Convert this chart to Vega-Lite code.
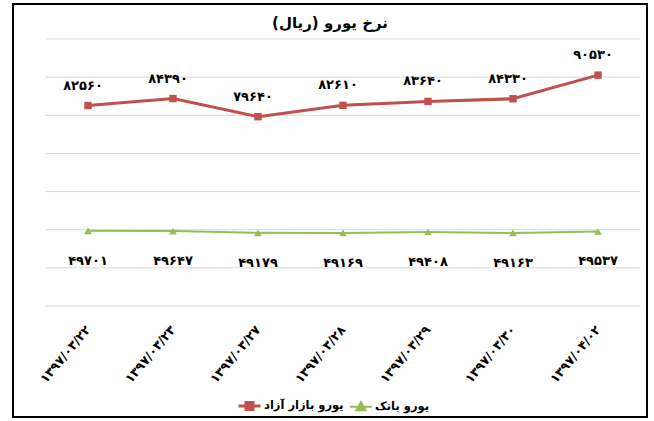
{
  "$schema": "https://vega.github.io/schema/vega-lite/v6.json",
  "width": 634,
  "height": 413,
  "autosize": {"type": "none"},
  "padding": {"left": 13, "top": 4, "right": 7, "bottom": 4},
  "background": "white",
  "config": {"view": {"stroke": "#000000", "strokeWidth": 2}, "font": "DejaVu Sans"},
  "title": {"text": "نرخ یورو (ریال)", "font": "DejaVu Sans", "fontSize": 15, "fontWeight": "bold", "color": "#000000", "anchor": "middle", "offset": -27},
  "datasets": {
    "rates": [
      {"date": "۱۳۹۷/۰۳/۲۲", "series": "یورو بازار آزاد", "value": 82560, "label": "۸۲۵۶۰"},
      {"date": "۱۳۹۷/۰۳/۲۳", "series": "یورو بازار آزاد", "value": 84390, "label": "۸۴۳۹۰"},
      {"date": "۱۳۹۷/۰۳/۲۷", "series": "یورو بازار آزاد", "value": 79640, "label": "۷۹۶۴۰"},
      {"date": "۱۳۹۷/۰۳/۲۸", "series": "یورو بازار آزاد", "value": 82610, "label": "۸۲۶۱۰"},
      {"date": "۱۳۹۷/۰۳/۲۹", "series": "یورو بازار آزاد", "value": 83640, "label": "۸۳۶۴۰"},
      {"date": "۱۳۹۷/۰۳/۳۰", "series": "یورو بازار آزاد", "value": 84330, "label": "۸۴۳۳۰"},
      {"date": "۱۳۹۷/۰۴/۰۲", "series": "یورو بازار آزاد", "value": 90530, "label": "۹۰۵۳۰"},
      {"date": "۱۳۹۷/۰۳/۲۲", "series": "یورو بانک", "value": 49701, "label": "۴۹۷۰۱"},
      {"date": "۱۳۹۷/۰۳/۲۳", "series": "یورو بانک", "value": 49647, "label": "۴۹۶۴۷"},
      {"date": "۱۳۹۷/۰۳/۲۷", "series": "یورو بانک", "value": 49179, "label": "۴۹۱۷۹"},
      {"date": "۱۳۹۷/۰۳/۲۸", "series": "یورو بانک", "value": 49169, "label": "۴۹۱۶۹"},
      {"date": "۱۳۹۷/۰۳/۲۹", "series": "یورو بانک", "value": 49408, "label": "۴۹۴۰۸"},
      {"date": "۱۳۹۷/۰۳/۳۰", "series": "یورو بانک", "value": 49163, "label": "۴۹۱۶۳"},
      {"date": "۱۳۹۷/۰۴/۰۲", "series": "یورو بانک", "value": 49537, "label": "۴۹۵۳۷"}
    ],
    "grid": [
      {"v": 30000}, {"v": 40000}, {"v": 50000}, {"v": 60000},
      {"v": 70000}, {"v": 80000}, {"v": 90000}, {"v": 100000}
    ]
  },
  "layer": [
    {
      "data": {"name": "grid"},
      "mark": {"type": "rule", "color": "#d9d9d9", "strokeWidth": 1},
      "encoding": {
        "x": {"datum": "۱۳۹۷/۰۳/۲۲", "type": "ordinal", "bandPosition": 0},
        "x2": {"datum": "۱۳۹۷/۰۴/۰۲", "bandPosition": 1},
        "y": {"field": "v", "type": "quantitative", "scale": {"domain": [900, 109180], "nice": false, "zero": false}, "axis": null}
      }
    },
    {
      "data": {"name": "rates"},
      "mark": {"type": "line"},
      "encoding": {
        "x": {
          "field": "date", "type": "ordinal", "sort": null,
          "scale": {"type": "band", "domain": ["۱۳۹۷/۰۳/۲۲", "۱۳۹۷/۰۳/۲۳", "۱۳۹۷/۰۳/۲۷", "۱۳۹۷/۰۳/۲۸", "۱۳۹۷/۰۳/۲۹", "۱۳۹۷/۰۳/۳۰", "۱۳۹۷/۰۴/۰۲"], "paddingInner": 0, "paddingOuter": 0.2294, "align": 0.833},
          "axis": {"orient": "bottom", "offset": -111, "domain": false, "ticks": false, "grid": false, "title": null, "labelAngle": -50, "labelAlign": "right", "labelBaseline": "middle", "labelPadding": 21, "labelFont": "DejaVu Sans", "labelFontWeight": "bold", "labelFontSize": 12.5, "labelColor": "#000000"}
        },
        "y": {"field": "value", "type": "quantitative", "scale": {"domain": [900, 109180], "nice": false, "zero": false}, "axis": null},
        "color": {
          "field": "series", "type": "nominal",
          "scale": {"domain": ["یورو بازار آزاد", "یورو بانک"], "range": ["#C0504D", "#9BBB59"]},
          "legend": {
            "title": null, "orient": "none", "direction": "horizontal", "legendX": 224, "legendY": 389,
            "labelFont": "DejaVu Sans", "labelFontWeight": "bold", "labelFontSize": 11.5, "labelColor": "#000000",
            "symbolSize": 480, "symbolStrokeWidth": 2.5, "columnPadding": 2, "labelOffset": 2,
            "encode": {
              "symbols": {
                "update": {
                  "shape": {"signal": "datum.value === 'یورو بانک' ? 'M-1,0L1,0M0,-0.42L0.42,0.32L-0.42,0.32Z' : 'M-1,0L1,0M-0.32,-0.32L0.32,-0.32L0.32,0.32L-0.32,0.32Z'"},
                  "fill": {"signal": "datum.value === 'یورو بانک' ? '#9BBB59' : '#C0504D'"},
                  "stroke": {"signal": "datum.value === 'یورو بانک' ? '#9BBB59' : '#C0504D'"},
                  "strokeWidth": {"value": 2.5},
                  "opacity": {"value": 1}
                }
              }
            }
          }
        },
        "strokeWidth": {"field": "series", "type": "nominal", "scale": {"domain": ["یورو بازار آزاد", "یورو بانک"], "range": [3, 2]}, "legend": null}
      }
    },
    {
      "data": {"name": "rates"},
      "transform": [{"filter": "datum.series === 'یورو بازار آزاد'"}],
      "mark": {"type": "point", "filled": true, "opacity": 1, "shape": "square", "size": 55},
      "encoding": {
        "x": {"field": "date", "type": "ordinal", "sort": null},
        "y": {"field": "value", "type": "quantitative"},
        "color": {"field": "series", "type": "nominal"}
      }
    },
    {
      "data": {"name": "rates"},
      "transform": [{"filter": "datum.series === 'یورو بانک'"}],
      "mark": {"type": "point", "filled": true, "opacity": 1, "shape": "triangle-up", "size": 60},
      "encoding": {
        "x": {"field": "date", "type": "ordinal", "sort": null},
        "y": {"field": "value", "type": "quantitative"},
        "color": {"field": "series", "type": "nominal"}
      }
    },
    {
      "data": {"name": "rates"},
      "transform": [{"filter": "datum.series === 'یورو بازار آزاد'"}],
      "mark": {"type": "text", "font": "DejaVu Sans", "fontWeight": "bold", "fontSize": 13, "color": "#000000", "dy": -20, "dx": -5},
      "encoding": {
        "x": {"field": "date", "type": "ordinal", "sort": null},
        "y": {"field": "value", "type": "quantitative"},
        "text": {"field": "label"}
      }
    },
    {
      "data": {"name": "rates"},
      "transform": [{"filter": "datum.series === 'یورو بانک'"}],
      "mark": {"type": "text", "font": "DejaVu Sans", "fontWeight": "bold", "fontSize": 13, "color": "#000000", "dy": 30},
      "encoding": {
        "x": {"field": "date", "type": "ordinal", "sort": null},
        "y": {"field": "value", "type": "quantitative"},
        "text": {"field": "label"}
      }
    }
  ]
}
